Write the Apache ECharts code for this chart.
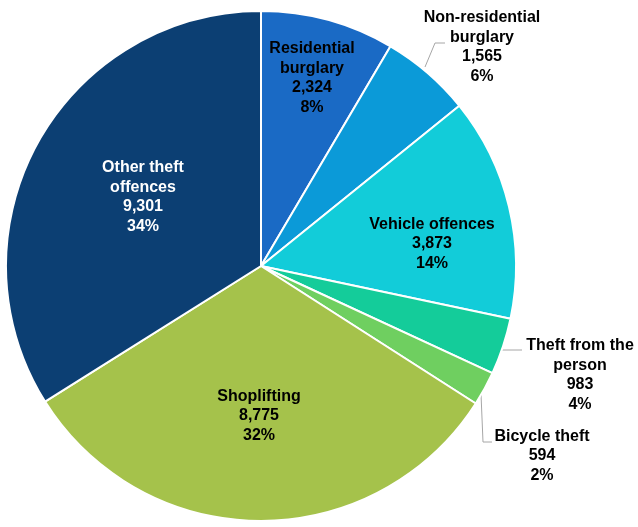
<!DOCTYPE html>
<html>
<head>
<meta charset="utf-8">
<script src="https://cdn.jsdelivr.net/npm/echarts@6/dist/echarts.min.js"></script>
<style>
  html, body { margin: 0; padding: 0; background: #ffffff; }
  #chart { width: 638px; height: 527px; }
</style>
</head>
<body>
<div id="chart"></div>
<script>
// Theft offences by type
const categories = [
  'Residential\nburglary',
  'Non-residential\nburglary',
  'Vehicle offences',
  'Theft from the\nperson',
  'Bicycle theft',
  'Shoplifting',
  'Other theft\noffences'
];
const counts = [2324, 1565, 3873, 983, 594, 8775, 9301];
const sliceColors = ['#1a6ac5', '#0b9ad8', '#12ccd9', '#14cc9a', '#6fcf60', '#a5c24b', '#0c3f73'];
const labelColors = ['#000', '#000', '#000', '#000', '#000', '#000', '#fff'];

// label anchor (centre of text block) and leader-line points for each slice
const labelSpots = [
  { x: 312, y: 78 },
  { x: 482, y: 47, line: [[425, 67], [435, 43], [445, 43]] },
  { x: 432, y: 244 },
  { x: 580, y: 375, line: [[498, 350], [510, 350], [522, 350]] },
  { x: 542, y: 456, line: [[481, 394], [483, 442], [492, 442]] },
  { x: 259, y: 416 },
  { x: 143, y: 197 }
];

const outside = [false, true, false, true, true, false, false];

const data = categories.map((name, i) => ({
  name: name,
  value: counts[i],
  itemStyle: { color: sliceColors[i] },
  label: {
    color: labelColors[i],
    position: outside[i] ? 'outside' : 'inside'
  },
  labelLine: {
    show: outside[i],
    lineStyle: { color: '#a6a6a6', width: 1 }
  }
}));

const chart = echarts.init(document.getElementById('chart'), null, { renderer: 'canvas' });
chart.setOption({
  animation: false,
  series: [{
    type: 'pie',
    center: [261, 266],
    radius: 255,
    startAngle: 90,
    clockwise: true,
    avoidLabelOverlap: false,
    itemStyle: { borderColor: '#ffffff', borderWidth: 2 },
    label: {
      show: true,
      fontFamily: 'Liberation Sans, Arial, sans-serif',
      fontWeight: 'bold',
      fontSize: 16,
      lineHeight: 19.5,
      align: 'center',
      formatter: function (p) {
        return p.name + '\n' + p.value.toLocaleString('en-US') + '\n' + Math.round(p.percent) + '%';
      }
    },
    labelLine: { show: false, length: 10, length2: 10 },
    labelLayout: function (params) {
      const s = labelSpots[params.dataIndex];
      const out = { x: s.x, y: s.y, align: 'center', verticalAlign: 'middle' };
      if (s.line) out.labelLinePoints = s.line;
      return out;
    },
    data: data
  }]
});
</script>
</body>
</html>
